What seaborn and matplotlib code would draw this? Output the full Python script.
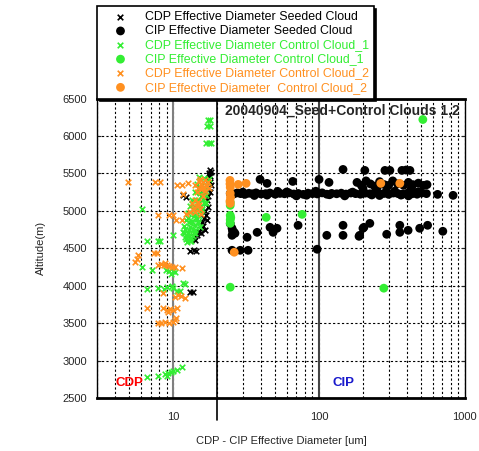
import pandas as pd
import seaborn as sns
import matplotlib.pyplot as plt

# CDP effective diameter, seeded cloud (black x)
cdp_seed_x = [17.9, 17.5, 18.0, 17.2, 17.8, 18.1, 17.6, 17.9, 17.4, 17.0, 16.8, 17.3, 16.5, 16.9,
              16.2, 15.8, 16.0, 15.5, 15.0, 14.5, 13.8, 13.5, 14.2, 11.7, 12.2, 13.1, 13.8, 14.3,
              13.1, 13.6, 15.2, 16.0, 17.0, 16.4, 15.6, 18.2, 17.7]
cdp_seed_y = [5540, 5500, 5460, 5420, 5380, 5340, 5300, 5250, 5200, 5150, 5100, 5050, 5000, 4950,
              4900, 4850, 4800, 4760, 4720, 4680, 4650, 4630, 4610, 5210, 5190, 4470, 4475, 4460,
              3915, 3920, 5300, 5280, 4880, 4740, 4700, 5520, 5480]

# CIP effective diameter, seeded cloud (black dots)
cip_seed_x = [24.6, 26, 27.5, 29, 31, 33, 35, 37, 40, 43, 46, 50, 54, 58, 62, 67, 72, 78, 84, 90,
              97, 105, 113, 122, 132, 142, 153, 165, 178, 192, 207, 223, 240, 258, 278, 300, 323,
              348, 375, 404, 435, 470, 506, 545, 650, 830,
              36, 52, 70, 95, 150, 200, 260, 330, 410, 480, 30, 44, 60, 82, 118, 170, 230, 290, 365, 440,
              182, 195, 210, 225, 240, 260, 280, 300, 320, 345, 380, 410, 440, 480, 520, 550, 200, 250, 430,
              146, 206, 283, 306, 370, 395, 420,
              66, 100, 117, 39.4, 44,
              25.3, 25.3, 26, 32.1, 37.6, 46.1, 48.4, 51.5, 71.8, 113, 146, 146, 190, 200, 223,
              291, 358, 358, 408, 490, 555, 706, 188, 203, 24.6, 25.5, 26.5,
              25.3, 28.8, 32.6, 97]
cip_seed_y = [5233, 5225, 5240, 5230, 5220, 5235, 5228, 5240, 5225, 5230, 5238, 5222, 5233, 5228,
              5240, 5225, 5232, 5220, 5236, 5230, 5226, 5240, 5222, 5233, 5228, 5236, 5224, 5238,
              5230, 5222, 5236, 5228, 5240, 5226, 5232, 5220, 5238, 5230, 5224, 5236, 5228, 5222,
              5238, 5230, 5220, 5207,
              5205, 5260, 5200, 5262, 5200, 5258, 5205, 5262, 5200, 5255, 5250, 5210, 5252, 5208,
              5215, 5250, 5212, 5255, 5210, 5250,
              5380, 5340, 5400, 5360, 5330, 5390, 5350, 5340, 5400, 5360, 5340, 5380, 5350, 5370,
              5340, 5350, 5300, 5310, 5300,
              5553, 5540, 5540, 5540, 5540, 5545, 5540,
              5393, 5420, 5380, 5420, 5367,
              4767, 4673, 4720, 4647, 4713, 4780, 4713, 4767, 4807, 4673, 4807, 4673, 4673, 4767,
              4833, 4687, 4807, 4713, 4740, 4767, 4807, 4727, 4660, 4780, 4830, 4730, 4700,
              4473, 4473, 4473, 4487]

# CDP effective diameter, control cloud 1 (green x)
cdp_c1_x = [17.2, 18.0, 17.0, 17.8, 16.8, 17.5, 18.2,
            15.0, 16.2, 17.5, 14.5, 15.8, 17.0, 14.0, 15.2, 16.6, 13.5, 14.8, 16.0, 13.0,
            14.2, 15.5, 12.6, 13.8, 15.0, 12.2, 13.4, 14.6, 11.8, 13.0, 14.2, 11.6, 12.6, 13.8,
            12.0, 13.2, 12.4, 16.8, 15.6, 14.4, 13.6, 12.8, 15.8, 14.8,
            16.5, 17.2, 15.4, 16.2, 14.9, 15.8, 14.3, 15.1, 13.9, 14.7, 13.3, 14.0, 12.9, 13.6,
            12.5, 13.1, 12.1, 12.8, 11.9, 12.3, 16.9, 16.3, 15.3, 14.1, 13.2, 12.7,
            6.1, 10.0, 6.6, 7.8, 8.1,
            6.1, 7.2, 8.9, 9.4, 9.9, 10.3, 9.6,
            6.6, 7.9, 8.6, 9.0, 9.8, 10.0, 11.7, 11.2, 10.6, 12.1,
            6.6, 7.8, 8.8, 9.2, 9.6, 10.0, 10.6, 11.5, 9.0]
cdp_c1_y = [6220, 6220, 6130, 6130, 5910, 5910, 5910,
            5450, 5440, 5420, 5360, 5340, 5330, 5250, 5240, 5260, 5150, 5140, 5160, 5060,
            5050, 5070, 4970, 4960, 4980, 4880, 4870, 4890, 4800, 4790, 4810, 4720, 4710, 4700,
            4650, 4640, 4580, 5100, 5000, 4900, 4760, 4680, 5200, 4850,
            5300, 5390, 5200, 5110, 5110, 5020, 5020, 4930, 4930, 4840, 4840, 4750, 4750, 4670,
            4670, 4600, 4760, 4850, 4700, 4620, 5210, 5280, 4780, 4700, 4600, 4900,
            5020, 4673, 4593, 4593, 4600,
            4247, 4210, 4207, 4200, 4190, 4180, 4150,
            3953, 3970, 3960, 3980, 3990, 3970, 4033, 3927, 3930, 4020,
            2780, 2790, 2820, 2840, 2850, 2860, 2880, 2910, 2800]

# CIP effective diameter, control cloud 1 (green dots)
cip_c1_x = [515, 76.5, 43.4, 24.6, 278, 24.6, 24.6, 24.6, 24.6, 24.6, 24.8]
cip_c1_y = [6220, 4953, 4913, 3980, 3967, 5113, 5073, 4940, 4880, 4833, 4910]

# CDP effective diameter, control cloud 2 (orange x)
cdp_c2_x = [4.9, 7.5, 8.1, 10.6, 11.5, 12.7, 11.7, 7.9, 9.4, 9.9, 10.5,
            14.0, 15.0, 16.0, 17.0, 17.5, 15.5, 16.5, 14.5, 16.0, 15.2, 16.8,
            15.8, 16.3, 14.8, 17.2, 15.4, 16.6,
            13.5, 14.5, 15.2, 14.0, 15.5, 13.0, 12.3, 11.5, 14.8, 13.8, 14.2, 15.0, 13.6,
            5.7, 5.5, 5.6, 7.4, 7.7, 7.8, 8.2, 8.6, 9.0, 9.4, 9.8, 10.3, 8.8, 11.5,
            8.5, 10.3, 10.8, 11.3, 12.0,
            6.6, 8.5, 9.0, 9.5, 10.0, 10.6, 9.2,
            7.8, 8.3, 8.8, 9.3, 10.0, 10.3, 10.5]
cdp_c2_y = [5380, 5380, 5380, 5350, 5350, 5370, 5220, 4940, 4940, 4940, 4880,
            5350, 5400, 5380, 5330, 5300, 5290, 5260, 5250, 5200, 5420, 5350,
            5330, 5300, 5310, 5380, 5360, 5410,
            5100, 5060, 5020, 4980, 4960, 4980, 4960, 4880, 5120, 5040, 5150, 5080, 5010,
            4407, 4313, 4360, 4433, 4440, 4273, 4290, 4280, 4270, 4260, 4255, 4250, 4300, 4233,
            3900, 3850, 3880, 3860, 3840,
            3700, 3700, 3680, 3690, 3670, 3700, 3650,
            3500, 3500, 3510, 3500, 3510, 3540, 3570]

# CIP effective diameter, control cloud 2 (orange dots)
cip_c2_x = [24.5, 24.5, 24.6, 27.9, 31.6, 24.6, 24.7, 24.5, 24.6, 26.2, 265, 358]
cip_c2_y = [5407, 5360, 5313, 5353, 5367, 5233, 5180, 5130, 5100, 4447, 5367, 5367]

labels = ["CDP Effective Diameter Seeded Cloud",
          "CIP Effective Diameter Seeded Cloud",
          "CDP Effective Diameter Control Cloud_1",
          "CIP Effective Diameter Control Cloud_1",
          "CDP Effective Diameter Control Cloud_2",
          "CIP Effective Diameter  Control Cloud_2"]

green = "#33ee33"
orange = "#ff9020"

sns.set_style("white")
plt.rcParams['font.family'] = ['Liberation Sans', 'DejaVu Sans']

fig = plt.figure(figsize=(4.79, 4.51), dpi=100)
ax = fig.add_axes([0.2025, 0.1175, 0.768, 0.664])

series = [
    (cdp_seed_x, cdp_seed_y, "black", "x", 16),
    (cip_seed_x, cip_seed_y, "black", "o", 40),
    (cdp_c1_x, cdp_c1_y, green, "x", 16),
    (cip_c1_x, cip_c1_y, green, "o", 40),
    (cdp_c2_x, cdp_c2_y, orange, "x", 16),
    (cip_c2_x, cip_c2_y, orange, "o", 40),
]
for (xs, ys, col, mk, sz), lab in zip(series, labels):
    df = pd.DataFrame({"d": xs, "alt": ys})
    sns.scatterplot(data=df, x="d", y="alt", ax=ax, color=col, marker=mk, s=sz,
                    linewidth=1.2 if mk == "x" else 0, edgecolor=col if mk == "x" else "none",
                    label=lab, zorder=3)

ax.set_xscale("log")
ax.set_xlim(3, 1000)
ax.set_ylim(2500, 6500)
ax.set_yticks(range(2500, 6501, 500))
ax.set_xticks([10, 100, 1000], labels=["10", "100", "1000"])

ax.grid(which="both", axis="x", color="black", ls=(0, (2, 2)), lw=0.8)
ax.grid(which="major", axis="y", color="black", ls=(0, (2, 2)), lw=0.8)
ax.axvline(10, color="gray", lw=1.5, zorder=2)
ax.axvline(100, color="#444444", lw=1.5, zorder=2)
ax.plot([20, 20], [2200, 6500], color="black", lw=1.2, clip_on=False, zorder=2)

ax.tick_params(axis="both", which="both", direction="in", labelsize=8)
ax.tick_params(axis="x", which="major", pad=10, length=4)
ax.tick_params(axis="y", pad=7, length=3, right=True, left=True)
for side in ["left", "right"]:
    ax.spines[side].set_linestyle((0, (1, 1)))
    ax.spines[side].set_linewidth(1.0)
    ax.spines[side].set_color("black")
for side in ["top", "bottom"]:
    ax.spines[side].set_linewidth(2.0)
    ax.spines[side].set_color("black")

ax.set_xlabel("CDP - CIP Effective Diameter [um]", fontsize=8, labelpad=10)
ax.set_ylabel("Altitude(m)", fontsize=8, labelpad=12)

ax.text(0.985, 0.985, "20040904_Seed+Control Clouds 1,2", transform=ax.transAxes,
        ha="right", va="top", fontsize=10, fontweight="bold")
ax.text(5.0, 2700, "CDP", color="red", fontsize=9.5, fontweight="bold", ha="center", va="center")
ax.text(148, 2700, "CIP", color="#1a1acc", fontsize=9.5, fontweight="bold", ha="center", va="center")

leg = ax.legend(loc="lower left", bbox_to_anchor=(0, 1), borderaxespad=0, fontsize=8.9,
                frameon=True, fancybox=False, labelspacing=0.17, handlelength=3,
                handletextpad=0.45, borderpad=0.4,
                shadow={"color": "black", "alpha": 1})
leg.get_frame().set_edgecolor("black")
leg.get_frame().set_linewidth(1.2)
for txt, col in zip(leg.get_texts(), ["black", "black", green, green, orange, orange]):
    txt.set_color(col)

fig.savefig("out.png", dpi=100)
